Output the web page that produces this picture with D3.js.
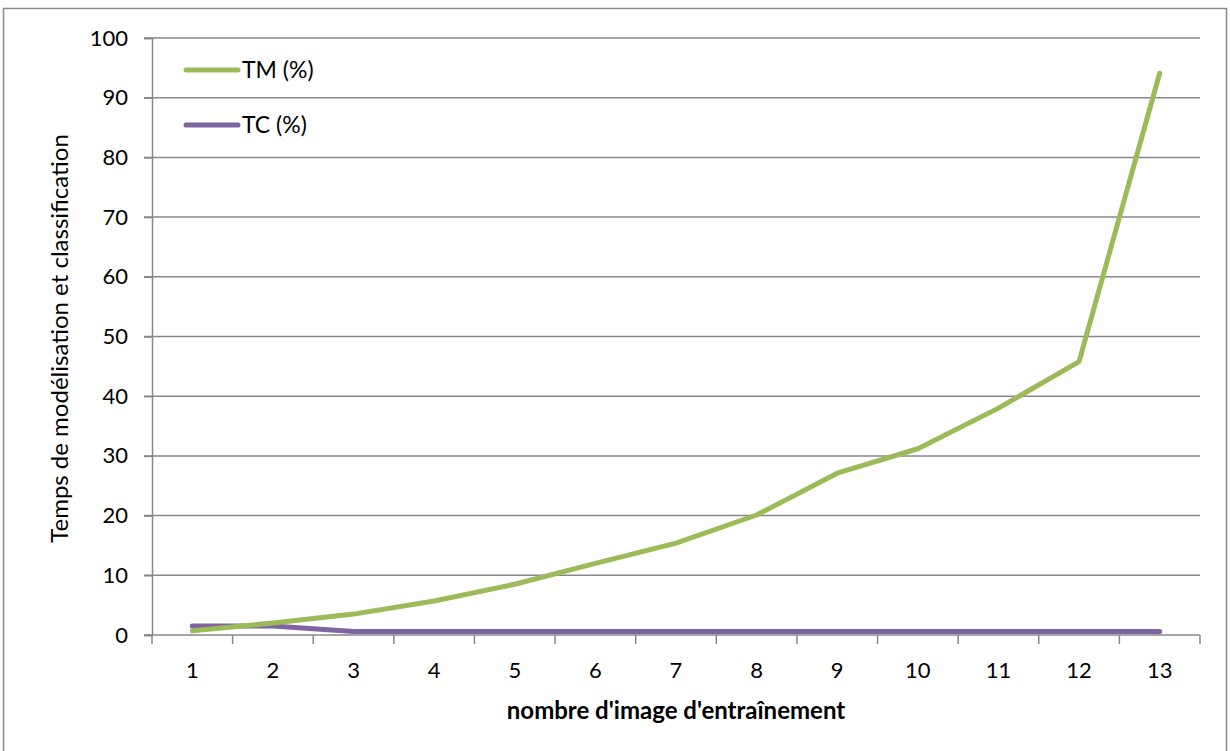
<!DOCTYPE html>
<html>
<head>
<meta charset="utf-8">
<script src="https://cdn.jsdelivr.net/npm/d3@7"></script>
<style>
  html, body { margin: 0; padding: 0; background: #fff; }
  svg { display: block; font-family: Lato, "Open Sans", "Liberation Sans", sans-serif; }
</style>
</head>
<body>
<svg id="chart" width="1230" height="751"></svg>
<script>
// Number of training images (categories)
const categories = ["1","2","3","4","5","6","7","8","9","10","11","12","13"];
// Modelling time (%)
const tmValues = [0.7, 2.0, 3.5, 5.7, 8.5, 12.0, 15.4, 20.1, 27.1, 31.2, 38.0, 45.8, 94.1];
// Classification time (%)
const tcValues = [1.5, 1.5, 0.6, 0.6, 0.6, 0.6, 0.6, 0.6, 0.6, 0.6, 0.6, 0.6, 0.6];
const yTicks = [0, 10, 20, 30, 40, 50, 60, 70, 80, 90, 100];
const seriesNames = ["TM (%)", "TC (%)"];
const seriesColors = ["#9BBB59", "#8064A2"];

const svg = d3.select("#chart");
const plot = { left: 152, right: 1200, top: 38, bottom: 635 };

// Outer chart frame
svg.append("rect")
  .attr("x", 3.5).attr("y", 8.5)
  .attr("width", 1223).attr("height", 750)
  .attr("fill", "#fff").attr("stroke", "#888").attr("stroke-width", 1.5);

const x = d3.scaleBand().domain(categories).range([plot.left, plot.right]);
const y = d3.scaleLinear().domain([0, 100]).range([plot.bottom, plot.top]);

// Horizontal gridlines
svg.append("g").selectAll("line").data(yTicks.filter(d => d > 0)).join("line")
  .attr("x1", plot.left - 8).attr("x2", plot.right)
  .attr("y1", d => y(d)).attr("y2", d => y(d))
  .attr("stroke", "#878787").attr("stroke-width", 1.5);

// Y axis
const yAxis = svg.append("g").attr("transform", `translate(${plot.left},0)`)
  .call(d3.axisLeft(y).tickValues(yTicks).tickSize(8).tickPadding(16));
yAxis.select(".domain").attr("stroke", "#878787").attr("stroke-width", 1.5);
yAxis.selectAll(".tick line").attr("stroke", "#878787").attr("stroke-width", 1.5);
yAxis.selectAll("text").attr("font-size", 22).attr("fill", "#000")
  .attr("font-family", "Lato, 'Open Sans', sans-serif");

// X axis with ticks between categories
const xAxisG = svg.append("g").attr("transform", `translate(0,${plot.bottom})`);
xAxisG.append("line")
  .attr("x1", plot.left - 8).attr("x2", plot.right)
  .attr("stroke", "#878787").attr("stroke-width", 1.5);
const bounds = categories.map(c => x(c)).concat([x(categories[categories.length - 1]) + x.bandwidth()]);
xAxisG.selectAll("line.tk").data(bounds).join("line").attr("class", "tk")
  .attr("x1", d => d).attr("x2", d => d).attr("y1", 0).attr("y2", 9)
  .attr("stroke", "#878787").attr("stroke-width", 1.5);
xAxisG.selectAll("text").data(categories).join("text")
  .attr("x", d => x(d) + x.bandwidth() / 2).attr("y", 43)
  .attr("text-anchor", "middle").attr("font-size", 22).attr("fill", "#000")
  .text(d => d);

// Series lines
const line = d3.line()
  .x((d, i) => x(categories[i]) + x.bandwidth() / 2)
  .y(d => y(d));
[tcValues, tmValues].forEach((vals, k) => {
  const idx = k === 0 ? 1 : 0;
  svg.append("path").datum(vals)
    .attr("d", line)
    .attr("fill", "none")
    .attr("stroke", seriesColors[idx])
    .attr("stroke-width", 5)
    .attr("stroke-linejoin", "round")
    .attr("stroke-linecap", "round");
});

// Legend
const legend = svg.append("g");
seriesNames.forEach((name, i) => {
  const ly = 70 + i * 55;
  legend.append("line")
    .attr("x1", 186).attr("x2", 238).attr("y1", ly).attr("y2", ly)
    .attr("stroke", seriesColors[i]).attr("stroke-width", 5).attr("stroke-linecap", "round");
  legend.append("text")
    .attr("x", 242).attr("y", ly + 8)
    .attr("font-size", 23).attr("fill", "#000")
    .text(name);
});

// Axis titles
svg.append("text")
  .attr("transform", `translate(68,${(plot.top + plot.bottom) / 2 + 2}) rotate(-90)`)
  .attr("text-anchor", "middle").attr("font-size", 24).attr("fill", "#000")
  .text("Temps de modélisation et classification");

svg.append("text")
  .attr("x", 676).attr("y", 719)
  .attr("text-anchor", "middle").attr("font-size", 24).attr("font-weight", "bold").attr("fill", "#000")
  .text("nombre d'image d'entraînement");
</script>
</body>
</html>
